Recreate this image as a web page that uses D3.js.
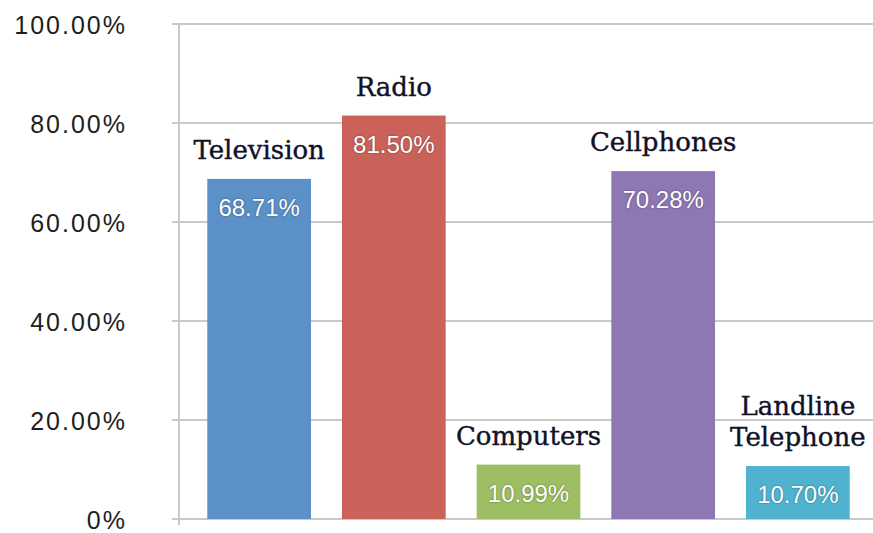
<!DOCTYPE html>
<html>
<head>
<meta charset="utf-8">
<script src="https://cdn.jsdelivr.net/npm/d3@7"></script>
<style>
  html, body { margin: 0; padding: 0; background: #fff; }
  svg { display: block; }
  .value-label { text-shadow: 0 0 2px rgba(0,0,0,0.45); }
</style>
</head>
<body>
<div id="chart"></div>
<script>
// Chart data
const categories = ['Television', 'Radio', 'Computers', 'Cellphones', 'Landline Telephone'];
const values = [68.71, 81.50, 10.99, 70.28, 10.70];
const barColors = ['#5b90c8', '#cb625a', '#9dbe62', '#8f77b3', '#4fb3cf'];
const yTicks = [0, 20, 40, 60, 80, 100];

const width = 873, height = 533;
const margin = { top: 24, right: 0, bottom: 14, left: 179 };

const svg = d3.select('#chart').append('svg')
  .attr('width', width)
  .attr('height', height);

const y = d3.scaleLinear()
  .domain([0, 100])
  .range([height - margin.bottom, margin.top]);

const x = d3.scaleBand()
  .domain(categories)
  .range([margin.left, 878])
  .paddingInner(0.23)
  .paddingOuter(0.21);

// gridlines + ticks
const grid = svg.append('g');
grid.selectAll('line')
  .data(yTicks)
  .join('line')
  .attr('x1', margin.left - 7)
  .attr('x2', width)
  .attr('y1', d => y(d))
  .attr('y2', d => y(d))
  .attr('stroke', '#c9c9c9')
  .attr('stroke-width', 2);

// y axis line
svg.append('line')
  .attr('x1', margin.left)
  .attr('x2', margin.left)
  .attr('y1', y(100))
  .attr('y2', y(0) + 6)
  .attr('stroke', '#c9c9c9')
  .attr('stroke-width', 2);

// y tick labels
svg.append('g').selectAll('text')
  .data(yTicks)
  .join('text')
  .attr('x', 127)
  .attr('y', d => y(d) + 10)
  .attr('text-anchor', 'end')
  .attr('font-family', 'Liberation Sans, Arial, sans-serif')
  .attr('font-size', 25)
  .attr('letter-spacing', 2)
  .attr('fill', '#1e1e1e')
  .text(d => d === 0 ? '0%' : d.toFixed(2) + '%');

// bars
svg.append('g').selectAll('rect')
  .data(categories)
  .join('rect')
  .attr('x', d => x(d))
  .attr('y', (d, i) => y(values[i]))
  .attr('width', x.bandwidth())
  .attr('height', (d, i) => y(0) - y(values[i]))
  .attr('fill', (d, i) => barColors[i]);

// value labels inside bars
svg.append('g').selectAll('text')
  .data(categories)
  .join('text')
  .attr('class', 'value-label')
  .attr('x', d => x(d) + x.bandwidth() / 2)
  .attr('y', (d, i) => y(values[i]) + 37)
  .attr('text-anchor', 'middle')
  .attr('font-family', 'Liberation Sans, Arial, sans-serif')
  .attr('font-size', 24)
  .attr('fill', '#fff')
  .text((d, i) => values[i].toFixed(2) + '%');

// category labels above bars
const catLabels = svg.append('g').selectAll('text')
  .data(categories)
  .join('text')
  .attr('x', d => x(d) + x.bandwidth() / 2)
  .attr('y', (d, i) => y(values[i]) - 20)
  .attr('text-anchor', 'middle')
  .attr('font-family', 'DejaVu Serif, serif')
  .attr('font-size', 26)
  .attr('fill', '#111128')
  .attr('stroke', '#111128')
  .attr('stroke-width', 0.4);

catLabels.each(function(d) {
  const words = d.split(' ');
  const t = d3.select(this);
  if (words.length > 1) {
    const cx = t.attr('x');
    words.forEach((w, j) => {
      t.append('tspan')
        .attr('x', cx)
        .attr('dy', j === 0 ? -(words.length - 1) * 31 : 31)
        .text(w);
    });
  } else {
    t.text(d);
  }
});
</script>
</body>
</html>
